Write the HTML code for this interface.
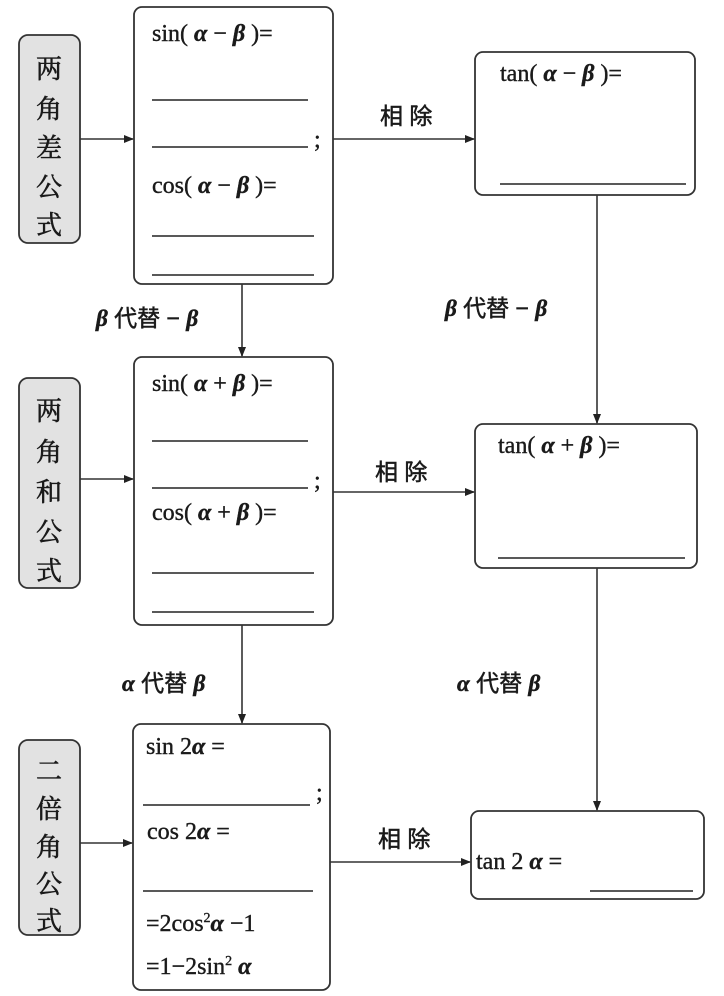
<!DOCTYPE html>
<html><head><meta charset="utf-8"><style>
body{margin:0;background:#fff}
svg{display:block}
.t{font-family:"Liberation Serif","Noto Serif CJK SC",serif;font-size:24px;fill:#1a1a1a;stroke:#1a1a1a;stroke-width:0.4}
.g{font-style:italic;font-weight:bold}
.c{font-family:"Liberation Sans","Noto Sans CJK SC",sans-serif;font-size:23px;fill:#1a1a1a;stroke:#1a1a1a;stroke-width:0.5}
.v{font-family:"Liberation Sans","Noto Serif CJK SC",serif;font-size:26px;fill:#1a1a1a;text-anchor:middle;stroke:#1a1a1a;stroke-width:0.6}
</style></head><body>
<svg width="724" height="996" viewBox="0 0 724 996" xmlns="http://www.w3.org/2000/svg">
<defs><marker id="a" markerWidth="10" markerHeight="8" refX="9" refY="4" orient="auto" markerUnits="userSpaceOnUse"><path d="M0,0 L10,4 L0,8 Z" fill="#222"/></marker></defs>
<g fill="#e2e2e2" stroke="#333" stroke-width="1.8">
<rect x="19" y="35" width="61" height="208" rx="9"/>
<rect x="19" y="378" width="61" height="210" rx="9"/>
<rect x="19" y="740" width="61" height="195" rx="9"/>
</g>
<g class="v">
<text x="49" y="78">两</text><text x="49" y="118">角</text><text x="49" y="157">差</text><text x="49" y="196">公</text><text x="49" y="234">式</text>
<text x="49" y="420">两</text><text x="49" y="461">角</text><text x="49" y="501">和</text><text x="49" y="541">公</text><text x="49" y="580">式</text>
<text x="49" y="780">二</text><text x="49" y="818">倍</text><text x="49" y="856">角</text><text x="49" y="893">公</text><text x="49" y="930">式</text>
</g>
<g fill="none" stroke="#333" stroke-width="1.8">
<rect x="134" y="7" width="199" height="277" rx="8"/>
<rect x="134" y="357" width="199" height="268" rx="8"/>
<rect x="133" y="724" width="197" height="266" rx="8"/>
<rect x="475" y="52" width="220" height="143" rx="8"/>
<rect x="475" y="424" width="222" height="144" rx="8"/>
<rect x="471" y="811" width="233" height="88" rx="8"/>
</g>
<g stroke="#333" stroke-width="1.6" marker-end="url(#a)">
<line x1="80" y1="139" x2="133" y2="139"/>
<line x1="80" y1="479" x2="133" y2="479"/>
<line x1="80" y1="843" x2="132" y2="843"/>
<line x1="333" y1="139" x2="474" y2="139"/>
<line x1="333" y1="492" x2="474" y2="492"/>
<line x1="330" y1="862" x2="470" y2="862"/>
<line x1="242" y1="284" x2="242" y2="356"/>
<line x1="242" y1="625" x2="242" y2="723"/>
<line x1="597" y1="195" x2="597" y2="423"/>
<line x1="597" y1="568" x2="597" y2="810"/>
</g>
<g stroke="#222" stroke-width="1.6">
<line x1="152" y1="100" x2="308" y2="100"/><line x1="152" y1="147" x2="308" y2="147"/>
<line x1="152" y1="236" x2="314" y2="236"/><line x1="152" y1="275" x2="314" y2="275"/>
<line x1="152" y1="441" x2="308" y2="441"/><line x1="152" y1="488" x2="308" y2="488"/>
<line x1="152" y1="573" x2="314" y2="573"/><line x1="152" y1="612" x2="314" y2="612"/>
<line x1="143" y1="805" x2="310" y2="805"/><line x1="143" y1="891" x2="313" y2="891"/>
<line x1="500" y1="184" x2="686" y2="184"/><line x1="498" y1="558" x2="685" y2="558"/>
<line x1="590" y1="891" x2="693" y2="891"/>
</g>
<g class="t">
<text x="152" y="41">sin( <tspan class="g">α</tspan> − <tspan class="g">β</tspan> )=</text>
<text x="314" y="147">;</text>
<text x="152" y="193">cos( <tspan class="g">α</tspan> − <tspan class="g">β</tspan> )=</text>
<text x="152" y="391">sin( <tspan class="g">α</tspan> + <tspan class="g">β</tspan> )=</text>
<text x="314" y="488">;</text>
<text x="152" y="520">cos( <tspan class="g">α</tspan> + <tspan class="g">β</tspan> )=</text>
<text x="146" y="754">sin 2<tspan class="g">α</tspan> =</text>
<text x="316" y="800">;</text>
<text x="147" y="839">cos 2<tspan class="g">α</tspan> =</text>
<text x="146" y="931">=2cos<tspan font-size="14" dy="-9">2</tspan><tspan class="g" dy="9">α</tspan> −1</text>
<text x="146" y="974">=1−2sin<tspan font-size="14" dy="-9">2</tspan><tspan class="g" dy="9"> α</tspan></text>
<text x="500" y="81">tan( <tspan class="g">α</tspan> − <tspan class="g">β</tspan> )=</text>
<text x="498" y="453">tan( <tspan class="g">α</tspan> + <tspan class="g">β</tspan> )=</text>
<text x="476" y="869">tan 2 <tspan class="g">α</tspan> =</text>
</g>
<g class="c">
<text x="380" y="124">相 除</text>
<text x="375" y="480">相 除</text>
<text x="378" y="847">相 除</text>
<text x="96" y="326"><tspan class="g" font-family="Liberation Serif">β</tspan> 代替 − <tspan class="g" font-family="Liberation Serif">β</tspan></text>
<text x="445" y="316"><tspan class="g" font-family="Liberation Serif">β</tspan> 代替 − <tspan class="g" font-family="Liberation Serif">β</tspan></text>
<text x="122" y="691"><tspan class="g" font-family="Liberation Serif">α</tspan> 代替 <tspan class="g" font-family="Liberation Serif">β</tspan></text>
<text x="457" y="691"><tspan class="g" font-family="Liberation Serif">α</tspan> 代替 <tspan class="g" font-family="Liberation Serif">β</tspan></text>
</g>
</svg>
</body></html>
